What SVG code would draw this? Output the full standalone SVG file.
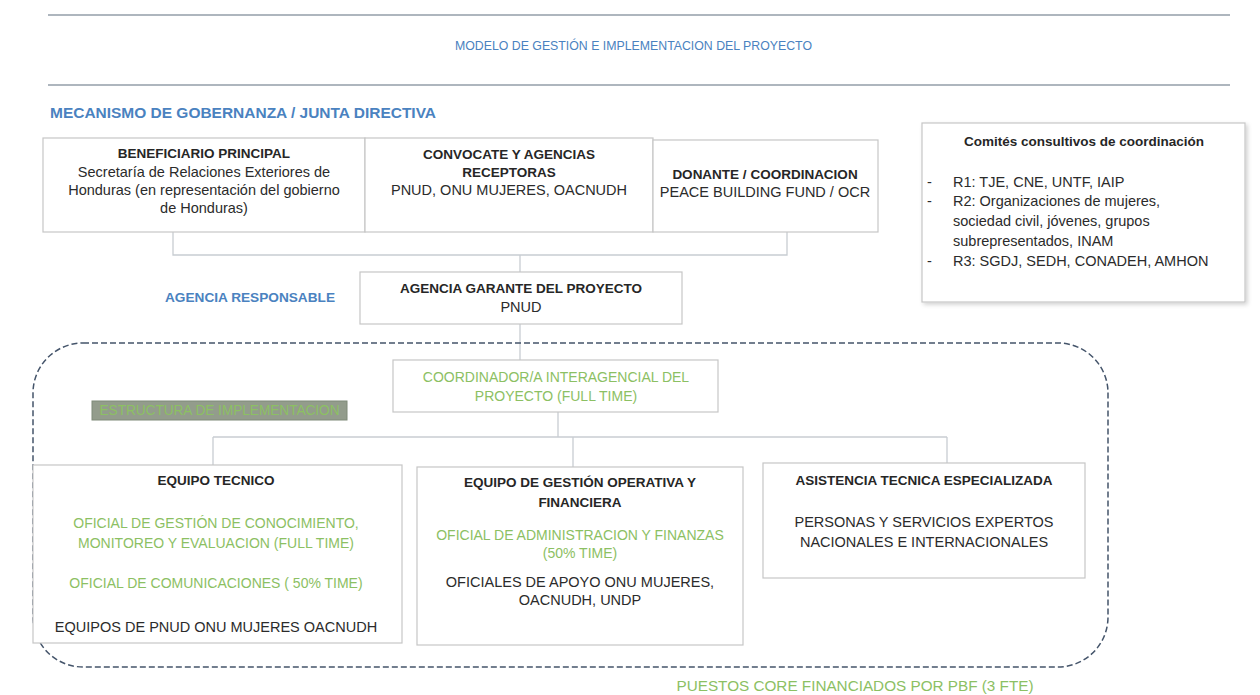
<svg xmlns="http://www.w3.org/2000/svg" width="1260" height="695" viewBox="0 0 1260 695">
<defs>
<style>
.bx{fill:#ffffff;stroke:#c6c6c6;stroke-width:1.2}
.cn{fill:none;stroke:#c8cdd2;stroke-width:1.3}
.t{font-family:"Liberation Sans",Arial,sans-serif;font-size:14.5px;fill:#2b2b2b;text-anchor:middle}
.b{font-family:"Liberation Sans",Arial,sans-serif;font-size:13.5px;font-weight:bold;fill:#262626;text-anchor:middle}
.g{font-family:"Liberation Sans",Arial,sans-serif;font-size:14px;fill:#8cc063;text-anchor:middle}
.h{font-family:"Liberation Sans",Arial,sans-serif;fill:#4a82c0}
.l{font-family:"Liberation Sans",Arial,sans-serif;font-size:14.5px;fill:#2b2b2b}
</style>
<filter id="sh" x="-5%" y="-5%" width="112%" height="115%">
<feDropShadow dx="2" dy="2" stdDeviation="2" flood-color="#000" flood-opacity="0.18"/>
</filter>
</defs>
<rect width="1260" height="695" fill="#ffffff"/>

<g id="header">
<line x1="48" y1="15" x2="1230" y2="15" stroke="#aeb6be" stroke-width="2"/>
<line x1="48" y1="85" x2="1230" y2="85" stroke="#aeb6be" stroke-width="2"/>
<text class="h" x="455" y="50" font-size="13" textLength="357" lengthAdjust="spacingAndGlyphs">MODELO DE GESTIÓN E IMPLEMENTACION DEL PROYECTO</text>
<text class="h" x="50" y="118" font-size="14" font-weight="bold" fill="#3f7dbf" textLength="386" lengthAdjust="spacingAndGlyphs">MECANISMO DE GOBERNANZA / JUNTA DIRECTIVA</text>
</g>

<g id="connectors">
<polyline class="cn" points="173,232 173,255 787,255 787,232"/>
<line class="cn" x1="520" y1="255" x2="520" y2="272"/>
<line class="cn" x1="520" y1="324" x2="520" y2="360"/>
<line class="cn" x1="558" y1="412" x2="558" y2="437"/>
<line class="cn" x1="213" y1="437" x2="947" y2="437"/>
<line class="cn" x1="213" y1="437" x2="213" y2="465"/>
<line class="cn" x1="573" y1="437" x2="573" y2="467"/>
<line class="cn" x1="947" y1="437" x2="947" y2="463"/>
</g>

<g id="structure-frame">
<rect x="33" y="343" width="1075" height="324" rx="50" ry="50" fill="none" stroke="#44546a" stroke-width="1.5" stroke-dasharray="6 3"/>
</g>

<g id="beneficiario">
<rect class="bx" x="43" y="138" width="322" height="94"/>
<text class="b" x="204" y="158">BENEFICIARIO PRINCIPAL</text>
<text class="t" x="204" y="177">Secretaría de Relaciones Exteriores de</text>
<text class="t" x="204" y="195">Honduras (en representación del gobierno</text>
<text class="t" x="204" y="213">de Honduras)</text>
</g>

<g id="convocante">
<rect class="bx" x="365" y="138" width="288" height="94"/>
<text class="b" x="509" y="159">CONVOCATE Y AGENCIAS</text>
<text class="b" x="509" y="177">RECEPTORAS</text>
<text class="t" x="509" y="195">PNUD, ONU MUJERES, OACNUDH</text>
</g>

<g id="donante">
<rect class="bx" x="653" y="140" width="225" height="92"/>
<text class="b" x="765" y="179">DONANTE / COORDINACION</text>
<text class="t" x="765" y="197">PEACE BUILDING FUND / OCR</text>
</g>

<g id="comites">
<rect class="bx" x="922" y="123" width="323" height="179" filter="url(#sh)"/>
<text class="b" x="1084" y="146">Comités consultivos de coordinación</text>
<text class="l" x="927" y="187">-</text>
<text class="l" x="953" y="187">R1: TJE, CNE, UNTF, IAIP</text>
<text class="l" x="927" y="206">-</text>
<text class="l" x="953" y="206">R2: Organizaciones de mujeres,</text>
<text class="l" x="953" y="226">sociedad civil, jóvenes, grupos</text>
<text class="l" x="953" y="246">subrepresentados, INAM</text>
<text class="l" x="927" y="266">-</text>
<text class="l" x="953" y="266">R3: SGDJ, SEDH, CONADEH, AMHON</text>
</g>

<g id="agencia-responsable">
<text class="h" x="165" y="302" font-size="12.5" font-weight="bold" fill="#4a86c5" textLength="170" lengthAdjust="spacingAndGlyphs">AGENCIA RESPONSABLE</text>
</g>

<g id="agencia-garante">
<rect class="bx" x="360" y="272" width="322" height="52"/>
<text class="b" x="521" y="293">AGENCIA GARANTE DEL PROYECTO</text>
<text class="t" x="521" y="312">PNUD</text>
</g>

<g id="coordinador">
<rect class="bx" x="393" y="360" width="325" height="52"/>
<text class="g" x="556" y="382">COORDINADOR/A INTERAGENCIAL DEL</text>
<text class="g" x="556" y="401">PROYECTO (FULL TIME)</text>
</g>

<g id="estructura-label">
<rect x="92" y="401" width="255" height="19" fill="#939c8c" stroke="#7f8a78" stroke-width="1"/>
<text class="g" x="219.5" y="415" font-size="11" fill="#b5d99a" textLength="240" lengthAdjust="spacingAndGlyphs">ESTRUCTURA DE IMPLEMENTACION</text>
</g>

<g id="equipo-tecnico">
<rect class="bx" x="33" y="465" width="369" height="178"/>
<text class="b" x="216" y="485">EQUIPO TECNICO</text>
<text class="g" x="216" y="528">OFICIAL DE GESTIÓN DE CONOCIMIENTO,</text>
<text class="g" x="216" y="548">MONITOREO Y EVALUACION (FULL TIME)</text>
<text class="g" x="216" y="588">OFICIAL DE COMUNICACIONES ( 50% TIME)</text>
<text class="t" x="216" y="632">EQUIPOS DE PNUD ONU MUJERES OACNUDH</text>
</g>

<g id="equipo-gestion">
<rect class="bx" x="417" y="467" width="326" height="178"/>
<text class="b" x="580" y="487">EQUIPO DE GESTIÓN OPERATIVA Y</text>
<text class="b" x="580" y="507">FINANCIERA</text>
<text class="g" x="580" y="540">OFICIAL DE ADMINISTRACION Y FINANZAS</text>
<text class="g" x="580" y="558">(50% TIME)</text>
<text class="t" x="580" y="587">OFICIALES DE APOYO ONU MUJERES,</text>
<text class="t" x="580" y="605">OACNUDH, UNDP</text>
</g>

<g id="asistencia">
<rect class="bx" x="763" y="463" width="322" height="115"/>
<text class="b" x="924" y="485">ASISTENCIA TECNICA ESPECIALIZADA</text>
<text class="t" x="924" y="527">PERSONAS Y SERVICIOS  EXPERTOS</text>
<text class="t" x="924" y="547">NACIONALES E INTERNACIONALES</text>
</g>

<g id="puestos-core">
<text class="g" x="855" y="691" text-anchor="start" font-size="12" textLength="357" lengthAdjust="spacingAndGlyphs">PUESTOS  CORE FINANCIADOS POR PBF (3 FTE)</text>
</g>
</svg>
